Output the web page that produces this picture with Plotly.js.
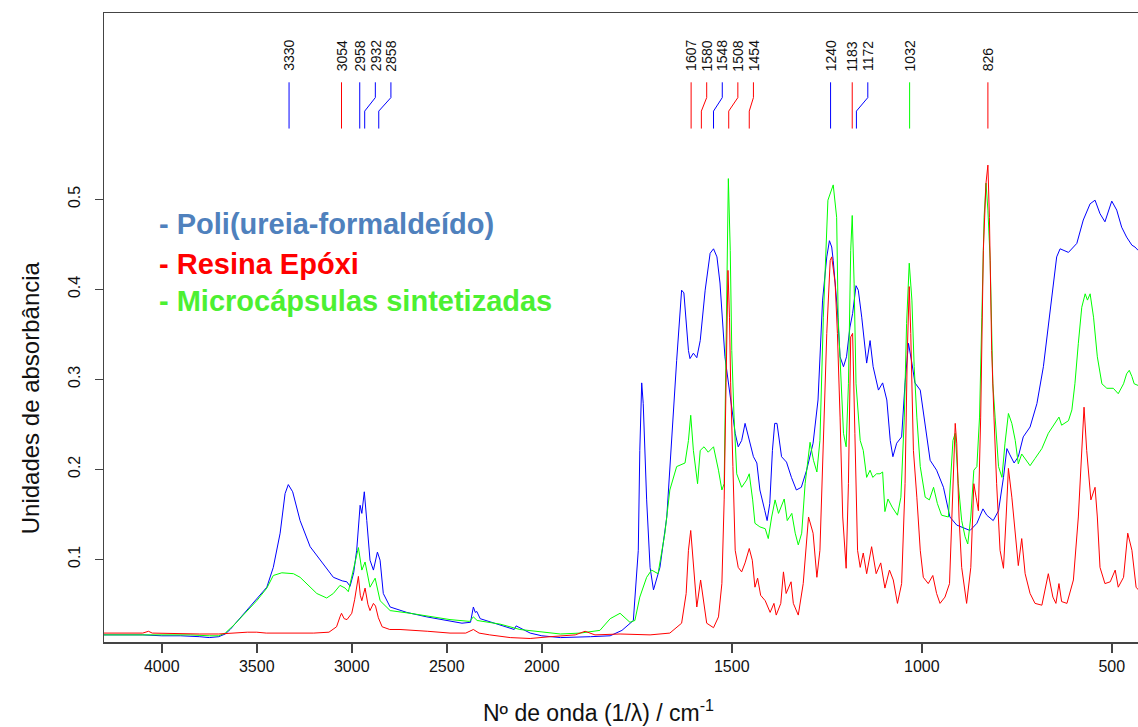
<!DOCTYPE html>
<html><head><meta charset="utf-8">
<script src="https://cdn.plot.ly/plotly-3.0.1.min.js"></script>
<style>html,body{margin:0;padding:0;background:#fff}</style>
</head><body><div id="chart" style="width:1138px;height:727px"></div>
<script>
// ---- data (wavenumber cm-1, absorbance) ----
const blueW = [4310,4200,4100,4000,3900,3800,3750,3700,3666,3640,3598,3560,3519,3480,3447,3413,3377,3351,3334,3311,3272,3219,3167,3097,3050,3026,3009,2990,2974,2956,2947,2934,2921,2904,2886,2865,2851,2834,2798,2711,2605,2500,2420,2375,2360,2350,2342,2324,2220,2166,2145,2135,2061,2000,1951,1872,1820,1789,1759,1746,1742,1737,1733,1724,1715,1706,1689,1671,1658,1645,1632,1626,1614,1610,1601,1592,1583,1570,1557,1548,1539,1531,1518,1509,1500,1491,1483,1474,1465,1456,1443,1434,1426,1413,1407,1400,1393,1387,1381,1369,1356,1343,1330,1317,1303,1286,1273,1261,1250,1243,1237,1233,1228,1222,1215,1206,1198,1189,1182,1173,1167,1158,1145,1136,1128,1114,1103,1092,1083,1076,1066,1053,1044,1035,1026,1018,1004,991,978,961,943,926,908,873,855,839,829,812,798,785,776,768,757,746,733,715,697,680,662,645,636,614,592,575,557,544,531,518,500,487,474,461,447,439,430];
const blueA = [0.016,0.016,0.016,0.015,0.015,0.014,0.013,0.014,0.017,0.022,0.032,0.042,0.051,0.060,0.069,0.091,0.129,0.173,0.183,0.175,0.143,0.114,0.099,0.080,0.076,0.075,0.070,0.085,0.110,0.160,0.151,0.175,0.143,0.099,0.088,0.108,0.099,0.062,0.047,0.041,0.036,0.032,0.029,0.030,0.047,0.041,0.042,0.034,0.027,0.024,0.022,0.026,0.018,0.015,0.013,0.014,0.015,0.021,0.032,0.110,0.221,0.296,0.273,0.166,0.091,0.066,0.091,0.147,0.240,0.321,0.399,0.396,0.332,0.323,0.329,0.324,0.343,0.399,0.440,0.445,0.436,0.407,0.325,0.296,0.266,0.240,0.225,0.232,0.251,0.236,0.214,0.207,0.177,0.154,0.143,0.162,0.221,0.251,0.251,0.214,0.208,0.191,0.177,0.180,0.199,0.229,0.277,0.388,0.436,0.454,0.447,0.432,0.407,0.377,0.325,0.314,0.325,0.358,0.373,0.404,0.399,0.369,0.318,0.343,0.314,0.288,0.296,0.277,0.232,0.214,0.229,0.236,0.296,0.340,0.318,0.296,0.288,0.251,0.210,0.199,0.180,0.147,0.138,0.132,0.140,0.156,0.149,0.143,0.154,0.191,0.223,0.216,0.207,0.214,0.236,0.247,0.273,0.314,0.380,0.436,0.445,0.441,0.451,0.477,0.495,0.499,0.484,0.475,0.498,0.488,0.469,0.458,0.449,0.447,0.443];

const redW = [4310,4100,4070,4050,3800,3700,3550,3500,3450,3200,3120,3080,3062,3054,3040,3025,3000,2985,2965,2955,2947,2930,2915,2904,2886,2875,2860,2840,2800,2746,2600,2483,2400,2360,2330,2274,2166,2061,1978,1912,1886,1860,1794,1715,1663,1654,1632,1620,1614,1608,1601,1592,1582,1575,1566,1548,1535,1526,1520,1515,1510,1506,1503,1497,1491,1483,1474,1465,1454,1446,1439,1432,1424,1412,1399,1389,1383,1371,1364,1357,1351,1344,1338,1325,1312,1298,1286,1276,1268,1259,1250,1241,1237,1228,1222,1215,1208,1199,1193,1187,1182,1176,1169,1162,1154,1145,1132,1120,1108,1097,1085,1075,1064,1053,1044,1038,1033,1029,1022,1013,1004,996,983,971,961,952,939,927,918,912,908,902,895,882,871,863,857,851,845,838,831,826,822,816,810,803,794,785,778,772,763,754,746,737,728,715,702,684,667,655,647,639,632,618,601,588,579,573,566,555,544,538,531,518,504,491,483,469,458,447,436,430];
const redA = [0.018,0.018,0.020,0.018,0.017,0.017,0.019,0.019,0.018,0.018,0.019,0.025,0.036,0.040,0.034,0.033,0.040,0.055,0.081,0.060,0.054,0.068,0.050,0.043,0.051,0.048,0.035,0.025,0.022,0.022,0.020,0.018,0.018,0.022,0.018,0.016,0.013,0.012,0.014,0.016,0.020,0.016,0.017,0.016,0.018,0.021,0.029,0.062,0.110,0.132,0.091,0.047,0.077,0.054,0.029,0.024,0.036,0.073,0.166,0.296,0.421,0.369,0.296,0.203,0.110,0.091,0.086,0.096,0.112,0.099,0.069,0.079,0.060,0.054,0.041,0.051,0.038,0.051,0.086,0.062,0.069,0.075,0.051,0.038,0.073,0.147,0.129,0.080,0.110,0.221,0.351,0.432,0.436,0.407,0.351,0.258,0.147,0.090,0.184,0.347,0.351,0.240,0.110,0.091,0.107,0.084,0.114,0.084,0.096,0.068,0.088,0.077,0.051,0.073,0.184,0.332,0.403,0.351,0.221,0.169,0.110,0.080,0.073,0.082,0.062,0.051,0.058,0.073,0.184,0.251,0.229,0.147,0.091,0.051,0.091,0.184,0.169,0.154,0.258,0.443,0.518,0.538,0.480,0.332,0.258,0.184,0.110,0.090,0.147,0.201,0.169,0.129,0.093,0.123,0.084,0.062,0.051,0.049,0.084,0.058,0.051,0.073,0.053,0.051,0.077,0.147,0.221,0.269,0.221,0.166,0.180,0.147,0.091,0.073,0.075,0.088,0.069,0.080,0.129,0.110,0.069,0.066];

const greenW = [4310,4100,4000,3850,3750,3700,3666,3620,3571,3500,3447,3413,3368,3307,3272,3237,3184,3132,3097,3062,3035,3018,2992,2965,2947,2930,2904,2877,2851,2798,2693,2570,2483,2380,2360,2340,2220,2115,2000,1951,1899,1847,1820,1794,1768,1755,1742,1724,1711,1694,1676,1663,1645,1623,1614,1608,1601,1590,1583,1573,1562,1548,1535,1526,1520,1515,1511,1509,1504,1500,1494,1487,1474,1461,1454,1445,1439,1426,1412,1404,1395,1386,1377,1362,1354,1342,1333,1325,1316,1307,1294,1285,1276,1268,1259,1247,1233,1224,1220,1213,1206,1199,1193,1187,1183,1178,1173,1162,1154,1145,1136,1129,1119,1110,1103,1097,1089,1078,1064,1055,1046,1040,1033,1026,1020,1013,1004,991,980,969,959,948,930,918,912,904,895,886,879,871,863,855,848,842,836,831,826,820,813,807,798,789,781,772,763,754,746,737,724,715,702,684,667,649,639,632,614,605,597,588,579,570,564,557,548,538,526,513,496,483,469,461,454,447,441,430];
const greenA = [0.016,0.016,0.016,0.016,0.015,0.015,0.018,0.027,0.038,0.054,0.068,0.082,0.085,0.084,0.080,0.073,0.062,0.057,0.062,0.071,0.068,0.064,0.088,0.113,0.088,0.097,0.069,0.079,0.054,0.043,0.040,0.036,0.033,0.031,0.036,0.032,0.028,0.022,0.019,0.017,0.018,0.021,0.034,0.040,0.030,0.032,0.058,0.080,0.088,0.084,0.129,0.177,0.203,0.207,0.232,0.260,0.221,0.184,0.221,0.225,0.219,0.225,0.199,0.177,0.184,0.332,0.480,0.523,0.443,0.332,0.258,0.195,0.180,0.188,0.195,0.166,0.140,0.136,0.134,0.123,0.147,0.166,0.151,0.167,0.143,0.151,0.129,0.116,0.129,0.184,0.230,0.210,0.197,0.232,0.369,0.499,0.516,0.480,0.369,0.295,0.240,0.225,0.295,0.443,0.482,0.406,0.295,0.232,0.221,0.191,0.199,0.191,0.195,0.195,0.197,0.153,0.167,0.158,0.149,0.169,0.258,0.362,0.429,0.388,0.314,0.258,0.203,0.169,0.166,0.180,0.162,0.149,0.147,0.232,0.240,0.184,0.143,0.125,0.117,0.147,0.199,0.203,0.258,0.369,0.480,0.518,0.488,0.432,0.295,0.258,0.203,0.191,0.229,0.262,0.251,0.232,0.206,0.217,0.210,0.204,0.212,0.223,0.240,0.251,0.258,0.249,0.254,0.266,0.295,0.340,0.380,0.395,0.388,0.395,0.369,0.325,0.295,0.290,0.290,0.284,0.295,0.306,0.310,0.303,0.295,0.293];

const peakW = [3330,3054,2958,2932,2858,1607,1580,1548,1508,1454,1240,1183,1172,1032,826];
const peakSeries = ['blue','red','blue','blue','blue','red','red','blue','red','red','blue','red','blue','green','red'];

const xTickVals = [4000,3500,3000,2500,2000,1500,1000,500];
const yTickVals = [0.1,0.2,0.3,0.4,0.5];

const seriesNames = ['Poli(ureia-formaldeído)','Resina Epóxi','Microcápsulas sintetizadas'];

// ---- scale: wavenumbers above 2000 are drawn at half scale ----
const u = w => (w <= 2000 ? w : 2000 + (w - 2000) / 2);
const lineColor = {blue:'#0000FF', red:'#FF0000', green:'#00FF00'};
const FONT = 'Liberation Sans, Arial, sans-serif';

const traces = [
  {x: blueW.map(u), y: blueA, name: seriesNames[0], type:'scatter', mode:'lines', line:{color:lineColor.blue, width:1}},
  {x: greenW.map(u), y: greenA, name: seriesNames[2], type:'scatter', mode:'lines', line:{color:lineColor.green, width:1}},
  {x: redW.map(u), y: redA, name: seriesNames[1], type:'scatter', mode:'lines', line:{color:lineColor.red, width:1}}
];

// peak marker lines and labels, labels spread apart to avoid overlap
const gap = 41;
const yTop = 0.630, yJ1 = 0.613, yJ2 = 0.598, yBot = 0.5786, yLab = 0.640;
const annotations = [];
let prev = Infinity;
peakW.forEach((w, i) => {
  const pu = u(w);
  const lu = Math.min(pu, prev - gap);
  prev = lu;
  traces.push({x:[lu, lu, pu, pu], y:[yTop, yJ1, yJ2, yBot], type:'scatter', mode:'lines',
    line:{color:lineColor[peakSeries[i]], width:1}, hoverinfo:'skip', showlegend:false});
  annotations.push({x: lu, y: yLab, xref:'x', yref:'y', text: String(w), showarrow:false,
    textangle:-90, xanchor:'center', yanchor:'bottom', font:{family:FONT, size:14, color:'#111'}});
});

// custom legend text
const legendColors = ['rgb(79,129,189)', '#FF0000', '#4CF032'];
const legendY = [0.664, 0.6005, 0.5417];
seriesNames.forEach((n, i) => {
  annotations.push({xref:'paper', yref:'paper', x:0.0513, y:legendY[i], xanchor:'left', yanchor:'middle',
    text:'<b>- ' + n + '</b>', showarrow:false, font:{family:FONT, size:29, color:legendColors[i]}});
});

// axis titles
annotations.push({xref:'paper', yref:'paper', x:0.4778, y:-0.110, xanchor:'center', yanchor:'middle', showarrow:false,
  text:'Nº de onda (1/λ) / cm<sup>-1</sup>', font:{family:FONT, size:23, color:'#111'}});
annotations.push({xref:'paper', yref:'paper', x:-0.0716, y:0.389, xanchor:'center', yanchor:'middle', showarrow:false,
  textangle:-90, text:'Unidades de absorbância', font:{family:FONT, size:24, color:'#111'}});

const layout = {
  width:1138, height:727,
  margin:{l:104, r:0, t:13, b:85},
  paper_bgcolor:'#fff', plot_bgcolor:'#fff',
  showlegend:false,
  font:{family:FONT, size:16, color:'#111'},
  xaxis:{range:[u(4304), u(431)], tickvals:xTickVals.map(u), ticktext:xTickVals.map(String),
    showgrid:false, zeroline:false, showline:true, mirror:true, linecolor:'#444', linewidth:1.5,
    ticks:'outside', ticklen:9, tickcolor:'#444', tickwidth:1.5, tickfont:{size:16, color:'#111'}},
  yaxis:{range:[0.0081, 0.707], tickvals:yTickVals, ticktext:yTickVals.map(v => v.toFixed(1)),
    showgrid:false, zeroline:false, showline:true, linecolor:'#444', linewidth:1.5,
    ticks:'outside', ticklen:8, tickcolor:'#444', tickwidth:1.5, tickangle:-90, ticklabelstandoff:8,
    tickfont:{size:16, color:'#111'}},
  annotations: annotations
};

Plotly.newPlot('chart', traces, layout, {displayModeBar:false, staticPlot:true});
</script>
</body></html>
